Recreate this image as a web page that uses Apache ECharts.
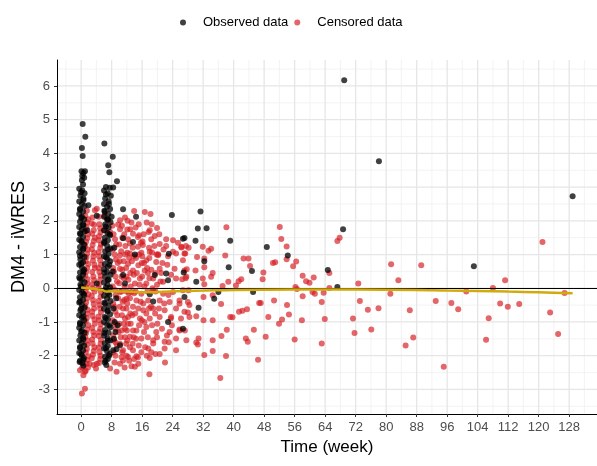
<!DOCTYPE html>
<html>
<head>
<meta charset="utf-8">
<script src="https://cdn.jsdelivr.net/npm/echarts@6/dist/echarts.min.js"></script>
<style>
html,body{margin:0;padding:0;background:#fff;}
#chart{width:597px;height:466px;}
</style>
</head>
<body>
<div id="chart"></div>
<script>
// ---------- tick / grid values ----------
const xTicks = [0,8,16,24,32,40,48,56,64,72,80,88,96,104,112,120,128];
const xMinor = [-4,4,12,20,28,36,44,52,60,68,76,84,92,100,108,116,124,132];
const yTicks = [-3,-2,-1,0,1,2,3,4,5,6];
const yMinor = [-3.5,-2.5,-1.5,-0.5,0.5,1.5,2.5,3.5,4.5,5.5,6.5];

// ---------- observed data (week, DM4 - iWRES) ----------
const observedWeek0 = [
[-0.5,2.95],[0.3,2.9],[0.9,2.82],[-0.2,2.74],[0.6,2.66],[-0.5,2.57],[0.2,2.5],[0.9,2.44],[-0.3,2.36],[0.5,2.28],
[-0.5,2.2],[0.2,2.12],[0.8,2.05],[-0.3,1.97],[0.5,1.9],[-0.5,1.82],[0.2,1.75],[0.9,1.68],[-0.2,1.6],[0.5,1.52],
[-0.5,1.44],[0.2,1.37],[0.8,1.3],[-0.3,1.22],[0.5,1.15],[-0.5,1.07],[0.2,1.0],[0.9,0.93],[-0.2,0.85],[0.5,0.77],
[-0.5,0.7],[0.2,0.62],[0.8,0.55],[-0.3,0.47],[0.5,0.4],[-0.5,0.32],[0.2,0.25],[0.9,0.18],[-0.2,0.1],[0.5,0.03],
[-0.5,-0.05],[0.2,-0.12],[0.8,-0.2],[-0.3,-0.27],[0.5,-0.35],[-0.5,-0.42],[0.2,-0.5],[0.9,-0.57],[-0.2,-0.65],[0.5,-0.72],
[-0.5,-0.8],[0.2,-0.87],[0.8,-0.95],[-0.3,-1.02],[0.5,-1.1],[-0.5,-1.17],[0.2,-1.25],[0.9,-1.32],[-0.2,-1.4],[0.5,-1.47],
[-0.5,-1.55],[0.2,-1.62],[0.8,-1.7],[-0.3,-1.77],[0.5,-1.85],[-0.5,-1.92],[0.2,-2.0],[0.7,-2.07],[-0.3,-2.15],[0.3,-2.22],
[-0.4,-2.19],[0.6,-2.3],
[0.0,2.85],[0.6,2.61],[-0.3,2.33],[0.0,2.08],[0.6,1.86],[-0.3,1.63],[0.0,1.4],[0.6,1.18],[-0.3,0.96],[0.0,0.73],
[0.6,0.5],[-0.3,0.28],[0.0,0.06],[0.6,-0.16],[-0.3,-0.39],[0.0,-0.61],[0.6,-0.84],[-0.3,-1.06],[0.0,-1.29],[0.6,-1.51],
[-0.3,-1.74],[0.0,-1.96],[0.6,-2.12],
[0.4,4.87],[1.1,4.49],[0.2,4.16],[0.4,3.92],[0.1,3.47],[0.6,3.42],[1.0,3.47],[0.3,3.33],[0.8,3.28],[0.2,3.2],[0.5,3.08],
[1.9,2.46],[4.1,2.15],[1.6,1.72],[4.1,0.14]
];
const observedWeek7 = [
[6.5,3.0],[7.5,2.98],[6.0,2.9],[7.0,2.82],[7.8,2.74],[6.3,2.66],[7.2,2.58],[6.0,2.5],[6.8,2.42],[7.6,2.35],
[6.2,2.27],[7.1,2.2],[6.0,2.12],[6.8,2.04],[7.7,1.96],[6.3,1.89],[7.2,1.8],[6.0,1.72],[6.9,1.64],[7.6,1.57],
[6.2,1.5],[7.0,1.42],[6.0,1.34],[6.8,1.26],[7.7,1.18],[6.3,1.1],[7.2,1.02],[6.0,0.95],[6.9,0.87],[7.6,0.8],
[6.2,0.72],[7.0,0.64],[6.0,0.56],[6.8,0.48],[7.7,0.4],[6.3,0.33],[7.2,0.25],[6.0,0.17],[6.9,0.1],[7.6,0.02],
[6.2,-0.06],[7.0,-0.14],[6.0,-0.22],[6.8,-0.3],[7.7,-0.38],[6.3,-0.45],[7.2,-0.53],[6.0,-0.61],[6.9,-0.69],[7.6,-0.77],
[6.2,-0.85],[7.0,-0.92],[6.0,-1.0],[6.8,-1.08],[7.7,-1.16],[6.3,-1.24],[7.2,-1.32],[6.0,-1.4],[6.9,-1.48],[7.6,-1.55],
[6.2,-1.63],[7.0,-1.71],[6.0,-1.79],[6.8,-1.87],[7.5,-1.95],[6.3,-2.03],[7.0,-2.1],[6.2,-2.2],[6.6,-2.28],
[6.5,2.78],[7.3,2.5],[6.1,2.3],[7.0,2.05],[6.5,1.83],[7.4,1.6],[6.1,1.38],[7.0,1.15],[6.5,0.92],[7.4,0.7],
[6.1,0.47],[7.0,0.25],[6.5,0.02],[7.4,-0.2],[6.1,-0.43],[7.0,-0.66],[6.5,-0.88],[7.4,-1.1],[6.1,-1.33],[7.0,-1.55],
[6.5,-1.78],[7.3,-2.0],[6.4,-2.15],
[6.1,4.29],[7.1,3.65],[7.4,3.44],[8.3,3.9],[9.4,3.17],[8.4,2.99],[8.0,2.12],
[8.5,-0.6],[8.8,-1.0],[9.0,-1.3],[8.6,-1.5],[9.2,-0.3],[8.3,0.5],[8.7,1.2],[9.3,-1.81],[8.4,-1.84],[10.2,-1.69],[9.6,-1.1]
];
const observedLater = [
[11.0,2.34],[14.4,2.12],[23.8,2.17],[11.0,1.48],[13.6,1.37],[14.1,1.0],[23.0,1.02],[27.1,1.49],
[11.0,0.39],[11.5,0.14],[19.3,0.39],[22.3,0.44],[22.8,0.24],[18.0,-0.18],[18.9,-0.39],[22.8,-1.0],
[27.1,-0.26],[26.7,-1.2],
[31.3,2.28],[30.6,1.77],[32.9,1.78],[26.7,1.47],[30.0,1.41],[39.1,1.41],[48.7,1.22],[68.7,1.75],
[64.7,0.54],[67.2,0.04],[54.2,0.97],[38.7,0.62],[44.8,0.51],[30.2,0.19],[26.9,0.47],[34.9,-0.31],
[30.8,-0.58],[45.1,-0.11],[32.3,0.8],[36.0,-0.11],
[69.0,6.17],[78.1,3.77],[128.9,2.73],[103.0,0.65]
];

// ---------- censored data (week, DM4 - iWRES) ----------
const censoredEarly = [
[1.5,2.3],[1.9,2.05],[1.4,1.82],[1.8,1.6],[1.3,1.38],[1.7,1.15],[1.4,0.92],[1.9,0.72],[1.3,0.48],[1.7,0.27],
[1.5,0.02],[1.9,-0.18],[1.3,-0.42],[1.7,-0.64],[1.5,-0.88],[1.9,-1.1],[1.3,-1.33],[1.7,-1.55],[1.5,-1.8],[1.9,-2.02],
[1.4,-2.24],[1.2,-2.45],
[1.1,2.15],[1.6,1.95],[1.2,1.7],[1.6,1.48],[1.1,1.25],[1.6,1.03],[1.2,0.8],[1.6,0.6],[1.1,0.37],[1.6,0.14],
[1.2,-0.08],[1.6,-0.3],[1.1,-0.53],[1.6,-0.76],[1.2,-0.98],[1.6,-1.22],[1.1,-1.44],[1.6,-1.67],[1.2,-1.9],[1.6,-2.13],[1.8,-2.35],
[3.6,2.31],[2.8,1.92],[3.3,1.72],[3.6,1.5],[3.0,1.28],[3.4,1.05],[3.1,0.82],[3.6,0.6],[3.2,0.35],[2.9,0.12],
[3.5,-0.1],[3.1,-0.35],[3.4,-0.6],[3.0,-0.82],[3.6,-1.05],[3.2,-1.3],[2.9,-1.52],[3.5,-1.75],[3.1,-1.97],[3.9,-2.38],[2.2,-2.24],
[3.0,2.1],[3.4,1.88],[2.9,1.62],[3.3,1.4],[2.8,1.16],[3.2,0.94],[3.5,0.7],[2.9,0.48],[3.4,0.24],[3.1,0.0],
[2.8,-0.22],[3.3,-0.47],[2.9,-0.7],[3.5,-0.93],[2.9,-1.18],[3.4,-1.4],[3.0,-1.64],[3.3,-1.86],[2.8,-2.08],[3.3,-2.28],
[4.1,2.36],[4.8,1.9],[5.1,1.65],[4.6,1.42],[5.0,1.2],[4.7,0.95],[5.2,0.7],[4.8,0.48],[5.0,0.25],[4.6,0.0],
[5.1,-0.25],[4.8,-0.5],[5.2,-0.72],[4.7,-0.95],[5.0,-1.2],[4.6,-1.42],[5.1,-1.65],[4.8,-1.9],[4.1,-2.24],[5.0,-2.1],
[4.6,2.12],[5.0,1.78],[4.7,1.54],[5.2,1.3],[4.6,1.07],[5.0,0.83],[4.6,0.6],[5.1,0.37],[4.7,0.12],[5.2,-0.12],
[4.6,-0.38],[5.0,-0.6],[4.6,-0.84],[5.2,-1.07],[4.7,-1.3],[5.2,-1.53],[4.6,-1.76],[5.1,-2.0],[4.7,-2.22],
[0.2,-3.12],[1.0,-2.98],[0.6,-2.58],[-0.3,-2.43],[1.0,-2.48],[0.3,-2.35],
[6.1,2.15],[7.1,2.02],[6.3,1.72],[7.6,1.67]
];
const censoredMid = [
[13.9,2.29],[16.7,2.26],[18.2,2.2],[19.9,1.79],[17.7,1.67],[15.2,1.57],[12.1,1.74],[13.6,1.62],[10.2,2.02],[9.7,1.89],
[18.4,1.45],[22.3,1.45],[16.1,1.39],[20.6,1.31],[22.3,1.25],[25.4,1.35],[26.3,1.23],[14.9,1.23],[16.2,1.28],[12.8,1.33],
[27.1,1.03],[18.6,1.06],[20.2,1.01],[24.1,1.08],[27.5,1.25],[18.0,1.72],[14.9,1.52],[24.1,1.42],
[10.2,0.98],[12.8,1.03],[15.8,1.05],[18.0,1.08],[20.2,0.98],[24.9,1.03],[26.7,0.83],[17.1,0.83],[19.7,0.78],[12.3,0.73],[15.0,0.68],
[10.2,0.58],[13.6,0.53],[16.7,0.53],[20.6,0.58],[24.5,0.58],[27.1,0.53],[11.9,0.34],[15.4,0.29],[18.9,0.29],[21.5,0.19],
[24.9,0.29],[27.6,0.34],[17.1,0.14],[14.1,0.14],
[10.2,-0.11],[13.2,-0.11],[15.8,-0.16],[18.9,-0.06],[21.5,-0.16],[24.1,-0.11],[26.7,-0.06],[11.9,-0.31],[14.5,-0.36],[17.6,-0.36],
[20.6,-0.36],[23.2,-0.41],[25.8,-0.36],[28.0,-0.41],
[11.0,-0.6],[13.6,-0.55],[16.3,-0.65],[18.9,-0.6],[21.9,-0.65],[24.9,-0.6],[27.1,-0.7],[12.3,-0.85],[15.4,-0.9],[18.0,-0.9],
[20.6,-0.85],[23.6,-0.85],[26.2,-0.9],
[11.5,-1.2],[14.5,-1.25],[17.1,-1.15],[19.7,-1.3],[23.2,-1.3],[25.8,-1.25],[12.8,-1.44],[15.8,-1.49],[18.9,-1.54],[21.9,-1.59],
[24.9,-1.49],[27.6,-1.54],
[11.0,-1.84],[13.6,-1.84],[17.6,-1.79],[21.9,-1.79],[24.9,-1.84],[12.3,-2.04],[14.5,-2.02],[18.0,-2.07],[10.2,-2.24],[13.2,-2.31],
[14.1,-2.33],[17.9,-2.55],[11.0,-2.14],[15.0,-2.24],[18.9,-1.64],
[8.5,1.6],[9.2,1.3],[8.8,1.0],[9.6,0.75],[8.6,0.5],[9.4,0.2],[8.9,-0.05],[9.7,-0.3],[8.7,-0.55],[9.5,-0.8],
[8.9,-1.05],[9.8,-1.3],[8.6,-1.55],[9.4,-1.7],[9.0,-2.0],[7.6,-2.38],[9.3,-2.48],[10.8,1.5],[10.5,1.1],[11.2,0.8],
[10.6,0.35],[11.4,0.05],[10.9,-0.4],[11.5,-0.9],[10.4,-1.45],[11.8,-1.65],[10.2,1.75],[11.6,1.25],[12.6,0.9],[12.9,0.45],
[12.5,-0.15],[13.0,-1.05],[12.0,-1.25],[13.5,-1.65],[16.0,0.95],[17.5,0.45],[19.5,-0.1],[20.0,-1.05],[16.6,-1.0],[22.6,0.7],
[23.5,-0.9],[21.0,0.45],[19.2,1.25],[13.2,1.95],[11.5,2.1],[12.3,1.45]
];
const censoredDense = [
[8.2,1.85],[8.9,1.45],[8.3,1.15],[9.1,0.85],[8.4,0.6],[9.0,0.35],[8.3,0.05],[9.1,-0.2],[8.4,-0.45],[9.0,-0.7],
[8.3,-0.95],[9.1,-1.2],[8.4,-1.4],[9.0,-1.6],[8.5,-1.9],[8.8,-2.2],
[10.0,1.3],[10.7,1.85],[11.3,1.6],[10.1,0.8],[10.8,0.55],[11.6,1.0],[10.0,0.15],[10.6,-0.1],[11.2,0.3],[11.8,0.6],
[10.1,-0.55],[10.7,-0.8],[11.3,-0.35],[11.9,-0.1],[10.0,-1.05],[10.6,-1.25],[11.2,-1.05],[11.9,-0.6],[10.2,-1.65],[10.8,-1.9],
[11.5,-1.45],[11.9,-2.0],[10.6,-2.05],[11.4,-2.35],
[12.2,2.0],[12.9,1.75],[13.5,1.2],[12.1,1.05],[13.3,0.8],[13.9,0.95],[12.4,0.25],[13.0,0.05],[13.8,0.4],[12.1,-0.45],
[12.8,-0.3],[13.4,-0.8],[13.9,-0.15],[12.3,-1.05],[12.9,-0.75],[13.6,-1.25],[12.1,-1.55],[12.8,-1.75],[13.8,-1.45],[12.6,-2.15],[13.9,-2.1],
[14.3,1.8],[15.1,1.9],[15.7,1.35],[14.4,0.9],[15.2,1.0],[15.9,0.75],[14.6,0.45],[15.3,0.1],[16.0,0.35],[14.3,-0.1],
[15.0,-0.6],[15.6,-0.4],[14.2,-0.75],[15.2,-1.1],[15.9,-0.95],[14.4,-1.5],[15.1,-1.7],[15.8,-1.9],[14.9,-2.05],
[16.4,1.6],[17.2,1.95],[17.8,1.2],[16.5,0.75],[17.3,0.6],[17.9,0.9],[16.6,0.05],[17.4,-0.1],[17.9,0.3],[16.3,-0.45],
[17.1,-0.75],[17.8,-0.6],[16.5,-1.3],[17.5,-1.45],[16.8,-1.75],[17.2,-2.0],
[18.5,1.9],[19.3,1.55],[19.8,1.0],[18.4,0.55],[19.5,0.45],[18.7,0.0],[19.9,0.1],[18.3,-0.55],[19.4,-0.75],[18.6,-1.1],
[19.9,-1.45],[18.4,-1.9],[19.5,-1.95],
[20.5,1.6],[21.6,1.15],[22.8,0.95],[23.6,0.4],[20.8,0.2],[21.8,-0.45],[22.9,-0.2],[20.4,-0.6],[21.2,-1.2],[23.0,-1.6],
[20.6,-1.95],[22.5,-1.4],[23.8,-1.1],[21.3,0.75],[22.0,-2.2]
];
const censoredLate = [
[38.1,1.81],[52.1,1.82],[52.5,1.46],[53.9,1.24],[67.8,1.5],[67.2,1.4],
[26.3,1.21],[28.2,1.2],[31.9,1.23],[33.4,1.11],[34.1,1.17],[27.3,1.03],[30.4,0.93],[37.8,0.97],[32.3,0.88],[42.6,0.88],
[43.9,0.88],[56.4,0.79],[53.9,0.86],[50.3,0.75],[50.9,0.77],[44.3,0.66],[32.3,0.62],[55.6,0.65],[27.7,0.56],[30.0,0.53],
[34.5,0.45],[34.1,0.34],[47.8,0.47],[47.6,0.27],[31.9,0.29],[42.0,0.27],[41.3,0.21],[38.6,0.19],[26.5,0.27],[27.4,0.3],
[37.1,0.07],[40.6,0.08],[32.3,0.12],[56.2,0.04],[28.2,-0.06],[32.1,-0.26],[34.5,-0.21],[50.6,-0.36],[46.7,-0.44],[47.1,-0.44],
[54.0,-0.5],[36.7,-0.47],[28.4,-0.5],[25.8,-0.46],[43.5,-0.62],[42.3,-0.67],[41.4,-0.7],[54.5,-0.78],[28.0,-0.72],[28.4,-0.85],
[30.2,-0.83],[39.1,-0.85],[39.7,-0.86],[49.1,-0.85],[51.9,-1.05],[52.7,-0.93],[32.1,-0.95],[34.5,-0.95],[38.2,-1.23],[45.3,-1.23],
[25.8,-1.22],[27.2,-1.25],[36.8,-1.42],[48.4,-1.44],[43.2,-1.49],[43.7,-1.59],[34.5,-1.54],[30.8,-1.49],[30.2,-1.61],[30.6,-1.67],
[56.0,-1.52],[34.5,-1.86],[32.3,-1.98],[38.0,-2.01],[46.4,-2.12],[36.5,-2.66],
[65.1,0.45],[58.1,0.37],[61.0,0.32],[59.0,0.21],[59.9,0.16],[83.2,0.24],[72.7,0.14],[56.6,-0.02],[65.1,0.01],[60.7,-0.11],
[61.3,-0.16],[63.6,-0.13],[58.1,-0.24],[81.1,-0.16],[73.1,-0.38],[63.1,-0.41],[93.0,-0.38],[75.2,-0.64],[78.0,-0.59],[86.2,-0.65],
[71.3,-0.9],[63.9,-0.91],[57.9,-0.95],[71.7,-1.33],[76.1,-1.22],[87.1,-1.46],[85.1,-1.7],[63.1,-1.64],[81.3,0.71],[89.2,0.68],
[121.0,1.37],[111.2,0.24],[108.0,0.01],[101.0,-0.1],[126.8,-0.14],[97.1,-0.44],[98.9,-0.62],[109.9,-0.45],[111.9,-0.55],[114.9,-0.47],
[123.0,-0.72],[106.9,-0.89],[106.2,-1.53],[125.1,-1.36],[95.1,-2.33]
];

// ---------- smooth trend ----------
const smoothWeeks  = [0,2,4,5.5,6.5,8,12,18,24,32,40,56,72,88,96,104,112,120,128.9];
const smoothValues = [0.02,0.0,-0.03,-0.05,-0.1,-0.09,-0.1,-0.12,-0.09,-0.07,-0.05,-0.04,-0.04,-0.05,-0.07,-0.08,-0.1,-0.12,-0.15];

const observed = observedWeek0.concat(observedWeek7, observedLater);
const censored = censoredEarly.concat(censoredMid, censoredDense, censoredLate);
const smooth = smoothWeeks.map((w, i) => [w, smoothValues[i]]);

const X_MIN = -6.33, X_MAX = 135.3, Y_MIN = -3.73, Y_MAX = 6.77;

// grid line specs: [value, horizontal?, major?]
const gridSpec = [];
xMinor.forEach(v => gridSpec.push([v, 0, 0]));
yMinor.forEach(v => gridSpec.push([v, 1, 0]));
xTicks.forEach(v => gridSpec.push([v, 0, 1]));
yTicks.forEach(v => gridSpec.push([v, 1, 1]));

const FONT = '"Liberation Sans", Arial, Helvetica, sans-serif';
const chart = echarts.init(document.getElementById('chart'), null, {renderer: 'canvas'});

chart.setOption({
  animation: false,
  textStyle: {fontFamily: FONT},
  grid: {left: 57, right: -3, top: 60, bottom: 52, containLabel: false},
  legend: {
    left: 175, top: 11,
    itemWidth: 30, itemHeight: 6, itemGap: 6,
    icon: 'circle',
    textStyle: {fontSize: 13, color: '#000', fontFamily: FONT},
    data: ['Observed data', 'Censored data']
  },
  xAxis: {
    type: 'value', min: X_MIN, max: X_MAX,
    splitLine: {show: false},
    axisLine: {show: true, onZero: false, lineStyle: {color: '#000', width: 1}},
    axisTick: {show: true, length: 3, customValues: xTicks, lineStyle: {color: '#333'}},
    axisLabel: {customValues: xTicks, color: '#4d4d4d', fontSize: 13, margin: 7, fontFamily: FONT},
    name: 'Time (week)', nameLocation: 'middle', nameGap: 25,
    nameTextStyle: {fontSize: 17, color: '#000', fontFamily: FONT}
  },
  yAxis: {
    type: 'value', min: Y_MIN, max: Y_MAX,
    splitLine: {show: false},
    axisLine: {show: true, onZero: false, lineStyle: {color: '#000', width: 1}},
    axisTick: {show: true, length: 3, customValues: yTicks, lineStyle: {color: '#333'}},
    axisLabel: {customValues: yTicks, color: '#4d4d4d', fontSize: 13, margin: 7, fontFamily: FONT},
    name: 'DM4 - iWRES', nameLocation: 'middle', nameGap: 27,
    nameTextStyle: {fontSize: 18, color: '#000', fontFamily: FONT}
  },
  series: [
    {
      type: 'custom', data: gridSpec, silent: true, z: 0,
      encode: {x: 0, y: -1},
      renderItem: function (params, api) {
        const v = api.value(0), horiz = api.value(1), major = api.value(2);
        let p1, p2;
        if (horiz) { p1 = api.coord([X_MIN, v]); p2 = api.coord([X_MAX, v]); }
        else { p1 = api.coord([v, Y_MIN]); p2 = api.coord([v, Y_MAX]); }
        return {
          type: 'line', silent: true,
          shape: {x1: p1[0], y1: p1[1], x2: p2[0], y2: p2[1]},
          style: {stroke: major ? '#e6e6e6' : '#f0f0f0', lineWidth: major ? 1.3 : 0.8}
        };
      }
    },
    {
      name: 'Censored data', type: 'scatter', data: censored, symbolSize: 6, z: 2,
      itemStyle: {color: '#d41e24', opacity: 0.68, borderWidth: 0}
    },
    {
      name: 'Observed data', type: 'scatter', data: observed, symbolSize: 6, z: 2,
      itemStyle: {color: '#000000', opacity: 0.75, borderWidth: 0}
    },
    {
      type: 'line', data: [], silent: true, z: 3,
      markLine: {silent: true, symbol: 'none', animation: false, label: {show: false},
        data: [{yAxis: 0, lineStyle: {color: '#000', width: 1.2, type: 'solid'}}]}
    },
    {
      type: 'line', data: smooth, smooth: 0.3, showSymbol: false, silent: true, z: 6,
      lineStyle: {color: '#d2aa0a', width: 2.5}
    }
  ]
});
</script>
</body>
</html>
